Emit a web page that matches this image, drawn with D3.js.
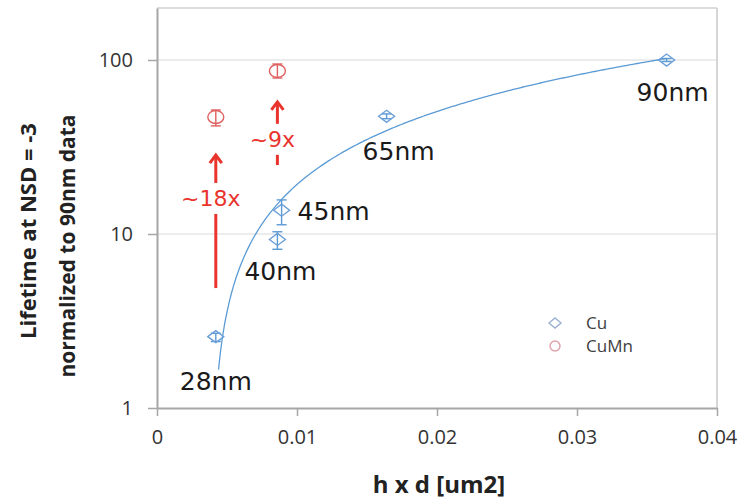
<!DOCTYPE html>
<html>
<head>
<meta charset="utf-8">
<script src="https://cdn.jsdelivr.net/npm/d3@7"></script>
<style>
  body { margin: 0; background: #fff; }
</style>
</head>
<body>
<div id="chart"></div>
<script>
// data
const cuNodes = ["28nm", "40nm", "45nm", "65nm", "90nm"];
const cuX = [0.0042, 0.0086, 0.0089, 0.0164, 0.0364];
const cuY = [2.57, 9.3, 13.7, 47.5, 100];
const cuLo = [2.41, 8.17, 11.3, 46, 98];
const cuHi = [2.69, 10.3, 15.7, 49, 102];

const cuMnX = [0.0042, 0.0086];
const cuMnY = [47, 86.5];
const cuMnLo = [41.8, 78.8];
const cuMnHi = [51.6, 94.8];

const xTicks = [0, 0.01, 0.02, 0.03, 0.04];
const yTicks = [1, 10, 100];

// improvement arrows: from (Cu side) to (CuMn side), text in the middle
const arrows = [
  {label: "~18x", x: 0.0042, from: 4.89, to: 28.4, mid: 16.1},
  {label: "~9x", x: 0.0086, from: 24.9, to: 57.4, mid: 35.2}
];

const width = 741, height = 501;
const margin = {top: 8, right: 24, bottom: 93, left: 157};
const blue = "#5b9bd5", red = "#e8342c";
const sans = "'Open Sans', 'Liberation Sans', sans-serif";
const dejavu = "'DejaVu Sans', sans-serif";

const svg = d3.select("#chart").append("svg")
    .attr("width", width)
    .attr("height", height)
    .style("font-family", sans);

const x = d3.scaleLinear()
    .domain([0, 0.04])
    .range([margin.left, width - margin.right]);

const y = d3.scaleLog()
    .domain([1, 199])
    .range([height - margin.bottom, margin.top]);

// grid + frame
svg.append("g").selectAll("line")
    .data(yTicks.slice(1))
    .join("line")
    .attr("x1", x(0)).attr("x2", x(0.04))
    .attr("y1", d => y(d)).attr("y2", d => y(d))
    .attr("stroke", "#d9d9d9").attr("stroke-width", 1.2);

svg.append("line")
    .attr("x1", x(0)).attr("x2", x(0.04))
    .attr("y1", margin.top).attr("y2", margin.top)
    .attr("stroke", "#d0d0d0").attr("stroke-width", 1.5);
svg.append("line")
    .attr("x1", x(0.04)).attr("x2", x(0.04))
    .attr("y1", margin.top).attr("y2", y(1))
    .attr("stroke", "#c8c8c8").attr("stroke-width", 1.5);

// axes
let xAxis = svg.append("g")
    .attr("transform", "translate(0," + y(1) + ")")
    .call(d3.axisBottom(x).tickValues(xTicks).tickFormat(d => d === 0 ? "0" : d3.format(".2f")(d)).tickSize(8).tickSizeOuter(0));
let yAxis = svg.append("g")
    .attr("transform", "translate(" + x(0) + ",0)")
    .call(d3.axisLeft(y).tickValues(yTicks).tickFormat(d3.format("d")).tickSize(9).tickSizeOuter(0));

[xAxis, yAxis].forEach(g => {
  g.attr("font-family", null).attr("font-size", null);
  g.select(".domain").attr("stroke", "#a6a6a6").attr("stroke-width", 2);
  g.selectAll(".tick line").attr("stroke", "#a6a6a6").attr("stroke-width", 1.5);
  g.selectAll(".tick text").style("font-size", "20px").attr("fill", "#333");
});
xAxis.selectAll(".tick text").attr("dy", "1.25em");
yAxis.selectAll(".tick text").attr("dx", "-0.6em");

// axis titles
svg.append("text")
    .attr("x", 439).attr("y", 493)
    .attr("text-anchor", "middle")
    .style("font-size", "24px").attr("font-weight", "bold").attr("fill", "#222")
    .text("h x d [um2]");

svg.append("text")
    .attr("transform", "translate(36,231) rotate(-90)")
    .attr("text-anchor", "middle")
    .style("font-size", "22px").attr("font-weight", "bold").attr("fill", "#222")
    .text("Lifetime at NSD = -3");
svg.append("text")
    .attr("transform", "translate(75,246) rotate(-90)")
    .attr("text-anchor", "middle")
    .style("font-size", "21px").attr("font-weight", "bold").attr("fill", "#222")
    .text("normalized to 90nm data");

// linear trendline of the Cu points (least squares), drawn on the log axis
const mx = d3.mean(cuX), my = d3.mean(cuY);
const slope = d3.sum(cuX, (v, i) => (v - mx) * (cuY[i] - my)) / d3.sum(cuX, v => (v - mx) * (v - mx));
const icpt = my - slope * mx;
const trendX = d3.range(0, 201).map(i => d3.min(cuX) + (d3.max(cuX) - d3.min(cuX)) * i / 200)
    .filter(v => slope * v + icpt > 1);

svg.append("path")
    .datum(trendX)
    .attr("fill", "none")
    .attr("stroke", blue)
    .attr("stroke-width", 1.3)
    .attr("d", d3.line().x(d => x(d)).y(d => y(slope * d + icpt)));

// error bars
function errorBars(xs, lo, hi, color) {
  const g = svg.append("g").attr("stroke", color).attr("stroke-width", 1.4);
  xs.forEach((v, i) => {
    g.append("line").attr("x1", x(v)).attr("x2", x(v)).attr("y1", y(lo[i])).attr("y2", y(hi[i]));
    [lo[i], hi[i]].forEach(e => g.append("line")
      .attr("x1", x(v) - 5).attr("x2", x(v) + 5).attr("y1", y(e)).attr("y2", y(e)));
  });
}
errorBars(cuX, cuLo, cuHi, blue);
errorBars(cuMnX, cuMnLo, cuMnHi, "#e06060");

// markers
svg.append("g").selectAll("path")
    .data(cuX)
    .join("path")
    .attr("transform", (d, i) => "translate(" + x(d) + "," + y(cuY[i]) + ")")
    .attr("d", "M-8,0L0,-6L8,0L0,6Z")
    .attr("fill", "none").attr("stroke", "#6b9fd8").attr("stroke-width", 1.4);

svg.append("g").selectAll("ellipse")
    .data(cuMnX)
    .join("ellipse")
    .attr("cx", d => x(d)).attr("cy", (d, i) => y(cuMnY[i]))
    .attr("rx", 8).attr("ry", 6.5)
    .attr("fill", "none").attr("stroke", "#e06060").attr("stroke-width", 1.4);

// node labels (28nm sits on a white box that hides the trendline end)
const labelPos = [[-36, 53], [-33, 41], [16, 10], [-24, 44], [-30, 41]];
const labels = svg.append("g");
cuNodes.forEach((n, i) => {
  const t = labels.append("text")
      .attr("x", x(cuX[i]) + labelPos[i][0])
      .attr("y", y(cuY[i]) + labelPos[i][1])
      .style("font-family", dejavu)
      .style("font-size", "25px").attr("fill", "#1a1a1a")
      .text(n);
  if (i === 0) {
    const b = t.node().getBBox();
    labels.insert("rect", () => t.node())
      .attr("x", b.x).attr("y", b.y + 3).attr("width", b.width).attr("height", y(1) - b.y - 5)
      .attr("fill", "#fff");
  }
});

// arrows with text
arrows.forEach(a => {
  const g = svg.append("g");
  g.append("line")
    .attr("x1", x(a.x)).attr("x2", x(a.x))
    .attr("y1", y(a.from)).attr("y2", y(a.to))
    .attr("stroke", red).attr("stroke-width", 3);
  g.append("path")
    .attr("d", "M" + (x(a.x) - 6) + "," + (y(a.to) + 8) + "L" + x(a.x) + "," + y(a.to) + "L" + (x(a.x) + 6) + "," + (y(a.to) + 8))
    .attr("fill", "none").attr("stroke", red).attr("stroke-width", 3);
  const t = g.append("text")
    .attr("x", x(a.x) - 5).attr("y", y(a.mid))
    .attr("dy", "0.36em")
    .attr("text-anchor", "middle")
    .style("font-family", dejavu)
    .style("font-size", "22px").attr("fill", red)
    .text(a.label);
  const b = t.node().getBBox();
  g.insert("rect", () => t.node())
    .attr("x", b.x - 2).attr("y", b.y - 3).attr("width", b.width + 4).attr("height", b.height + 6)
    .attr("fill", "#fff");
});

// legend
const legend = svg.append("g").attr("transform", "translate(555,323)");
legend.append("path").attr("d", "M-6,0L0,-5L6,0L0,5Z")
    .attr("fill", "none").attr("stroke", "#9bb0d2").attr("stroke-width", 1.4);
legend.append("circle").attr("cy", 23).attr("r", 5)
    .attr("fill", "none").attr("stroke", "#e0a0a8").attr("stroke-width", 1.4);
legend.selectAll("text")
    .data(["Cu", "CuMn"])
    .join("text")
    .attr("x", 31).attr("y", (d, i) => i * 23)
    .attr("dy", "0.35em")
    .style("font-size", "17px").attr("fill", "#404040")
    .text(d => d);
</script>
</body>
</html>
